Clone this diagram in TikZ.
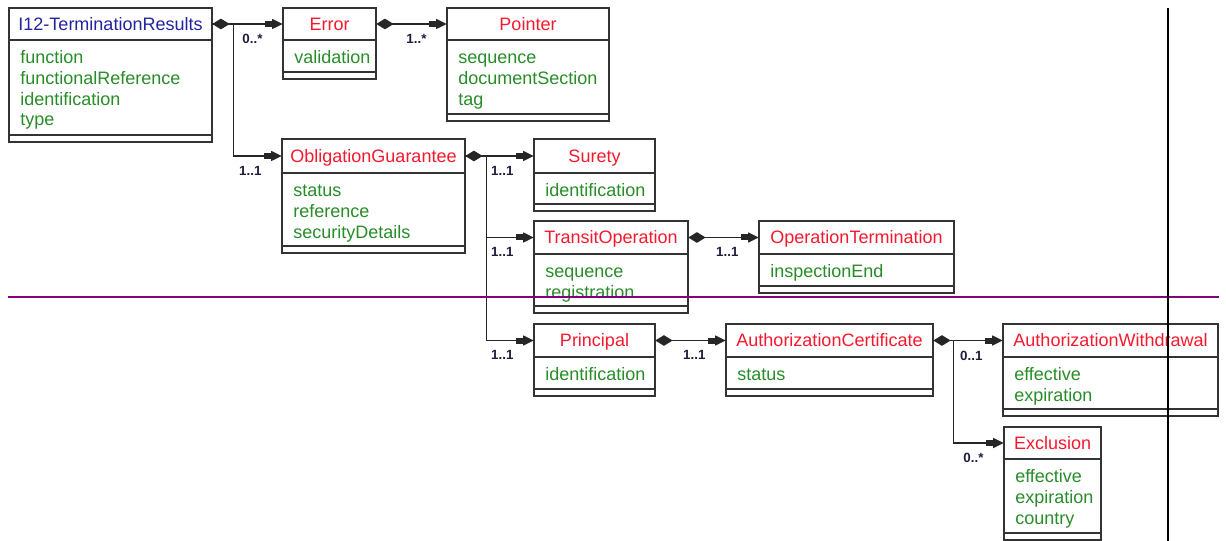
\documentclass[tikz,border=0pt]{standalone}
\usepackage{fontspec}
\setmainfont{Liberation Sans}
\usepackage{tikz}
\usetikzlibrary{positioning,arrows.meta,calc,fit}

\definecolor{umlred}{RGB}{245,25,45}
\definecolor{umlgreen}{RGB}{40,140,40}
\definecolor{umlblue}{RGB}{35,35,160}
\definecolor{umlpurple}{RGB}{128,0,128}
\definecolor{multcol}{RGB}{30,30,60}

% #1 name, #2 left, #3 top, #4 right, #5 header line, #6 bottom, #7 title colour, #8 title, #9 attributes
\newcommand{\umlclass}[9]{%
  \draw[classline] (#2,#3) rectangle (#4,#6);
  \draw[classline] (#2,#5) -- (#4,#5);
  \draw[classline] (#2,#6-7) -- (#4,#6-7);
  \node[inner sep=0pt, fit={(#2,#3) (#4,#5)}] (#1) {};
  \node[classhead, text=#7] (#1-title) at (#1.center) {#8};
  \foreach \aname [count=\k] in {#9}
    \node[attr, anchor=base west] (#1-\k) at (#2+11, #5+23.5+20.8*\k-20.8) {\aname};
}

\begin{document}
\begin{tikzpicture}[x=0.75pt, y=-0.75pt,
    font=\fontsize{13.5}{15}\selectfont,
    classline/.style={draw=black!80, line width=1.1pt},
    classhead/.style={inner sep=0pt, anchor=center, text height=11.5pt, text depth=2pt},
    attr/.style={inner sep=0pt, text=umlgreen},
    mult/.style={inner sep=0pt, font=\fontsize{10}{12}\selectfont\bfseries, text=multcol},
    comp/.style={draw=black!85, line width=1.1pt,
      {Diamond[length=13pt,width=8pt]}-{Rectangle[length=5pt,width=4.5pt]Triangle[length=8pt,width=7.5pt]}},
    assoc/.style={draw=black!85, line width=1.1pt,
      -{Rectangle[length=5pt,width=4.5pt]Triangle[length=8pt,width=7.5pt]}}]
  \useasboundingbox (0,0) rectangle (1226,541);

  % classes (pixel coordinates)
  \umlclass{i12}{9}{8}{212}{40}{142}{umlblue}{I12-TerminationResults}{function,functionalReference,identification,type}
  \umlclass{error}{283}{8}{376}{40}{79}{umlred}{Error}{validation}
  \umlclass{pointer}{447}{8}{609}{40}{121}{umlred}{Pointer}{sequence,documentSection,tag}
  \umlclass{oblig}{282}{139}{465}{173}{253}{umlred}{ObligationGuarantee}{status,reference,securityDetails}
  \umlclass{surety}{534}{139}{655}{173}{211}{umlred}{Surety}{identification}
  \umlclass{transit}{534}{221}{688}{254}{313}{umlred}{TransitOperation}{sequence,registration}
  \umlclass{opterm}{759}{221}{954}{254}{293}{umlred}{OperationTermination}{inspectionEnd}
  \umlclass{principal}{534}{324}{655}{357}{396}{umlred}{Principal}{identification}
  \umlclass{authcert}{726}{324}{933}{357}{396}{umlred}{AuthorizationCertificate}{status}
  \umlclass{authwd}{1003}{324}{1218}{357}{416}{umlred}{AuthorizationWithdrawal}{effective,expiration}
  \umlclass{exclusion}{1004}{427}{1101}{459}{540}{umlred}{Exclusion}{effective,expiration,country}

  % connectors
  \draw[comp] (i12.east) -- (error.west);
  \draw[assoc] (i12.east) -- ++(21,0) |- (oblig.west);
  \draw[comp] (error.east) -- (pointer.west);
  \draw[comp] (oblig.east) -- (surety.west);
  \draw[assoc] (oblig.east) -- ++(21,0) |- (transit.west);
  \draw[assoc] (oblig.east) -- ++(21,0) |- (principal.west);
  \draw[comp] (transit.east) -- (opterm.west);
  \draw[comp] (principal.east) -- (authcert.west);
  \draw[comp] (authcert.east) -- (authwd.west);
  \draw[assoc] (authcert.east) -- ++(20,0) |- (exclusion.west);

  % multiplicities
  \foreach \tgt/\m in {error/0..*, oblig/1..1, pointer/1..*, surety/1..1, transit/1..1,
      opterm/1..1, principal/1..1, authcert/1..1, authwd/0..1, exclusion/0..*}
    \path (\tgt.west) ++(-20,10) node[mult, anchor=north east] (m-\tgt) {\m};

  % page break lines
  \draw[umlpurple, line width=1.5pt] (8,297) -- (1219,297);
  \draw[black, line width=1.6pt] (1168,8) -- (1168,541);
\end{tikzpicture}
\end{document}
